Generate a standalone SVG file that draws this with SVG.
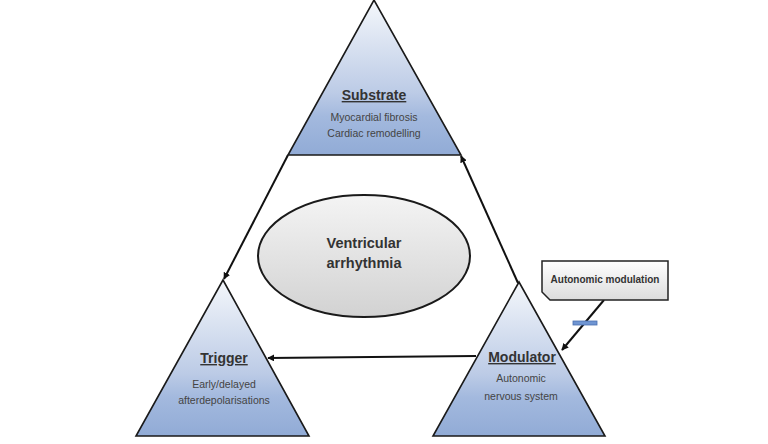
<svg xmlns="http://www.w3.org/2000/svg" width="768" height="444" viewBox="0 0 768 444">
<defs>
<linearGradient id="tri" x1="0" y1="0" x2="0" y2="1">
<stop offset="0" stop-color="#f4f7fb"/>
<stop offset="0.6" stop-color="#bccbe6"/>
<stop offset="0.75" stop-color="#a3b9de"/>
<stop offset="1" stop-color="#91abd6"/>
</linearGradient>
<linearGradient id="ell" x1="0" y1="0" x2="0" y2="1">
<stop offset="0" stop-color="#f4f4f4"/>
<stop offset="1" stop-color="#d2d2d2"/>
</linearGradient>
<linearGradient id="box" x1="0" y1="0" x2="0" y2="1">
<stop offset="0" stop-color="#ffffff"/>
<stop offset="1" stop-color="#dcdcdc"/>
</linearGradient>
<marker id="ah" viewBox="0 0 10 10" refX="9" refY="5" markerWidth="7" markerHeight="7" orient="auto" markerUnits="userSpaceOnUse">
<path d="M0,0 L10,5 L0,10 z" fill="#111"/>
</marker>
</defs>
<style>
.tri{fill:url(#tri);stroke:#1a1a1a;stroke-width:1.6}
.title{font-family:"Liberation Sans",Arial,sans-serif;font-weight:bold;font-size:14px;fill:#333;text-anchor:middle;text-decoration:underline}
.body{font-family:"Liberation Sans",Arial,sans-serif;font-size:10.5px;fill:#444;text-anchor:middle}
.conn{stroke:#111;stroke-width:2;fill:none}
</style>
<rect width="768" height="444" fill="#ffffff"/>
<g id="connectors">
<line class="conn" x1="288" y1="155" x2="224" y2="279" marker-end="url(#ah)"/>
<line class="conn" x1="518" y1="283" x2="461" y2="156" marker-end="url(#ah)"/>
<line class="conn" x1="476" y1="356" x2="268" y2="358" marker-end="url(#ah)"/>
<line class="conn" x1="604" y1="300" x2="562" y2="350" marker-end="url(#ah)"/>
<rect x="573" y="321" width="24" height="4" fill="#6f95d2" stroke="#4a6fae" stroke-width="0.8"/>
</g>
<g id="substrate">
<polygon class="tri" points="374,0 461,155 288,155"/>
<text class="title" x="374" y="100">Substrate</text>
<text class="body" x="374" y="121">Myocardial fibrosis</text>
<text class="body" x="374" y="137">Cardiac remodelling</text>
</g>
<g id="trigger">
<polygon class="tri" points="223,280 309,436 136,436"/>
<text class="title" x="224" y="363">Trigger</text>
<text class="body" x="224" y="388">Early/delayed</text>
<text class="body" x="224" y="404">afterdepolarisations</text>
</g>
<g id="modulator">
<polygon class="tri" points="519,282 605,436 433,436"/>
<text class="title" x="522" y="362">Modulator</text>
<text class="body" x="521" y="382">Autonomic</text>
<text class="body" x="521" y="400">nervous system</text>
</g>
<g id="arrhythmia">
<ellipse cx="364" cy="256" rx="106" ry="61" fill="url(#ell)" stroke="#1a1a1a" stroke-width="2"/>
<text x="364" y="248" font-family="Liberation Sans, Arial, sans-serif" font-weight="bold" font-size="14.5" fill="#333" text-anchor="middle">Ventricular</text>
<text x="364" y="268" font-family="Liberation Sans, Arial, sans-serif" font-weight="bold" font-size="14.5" fill="#333" text-anchor="middle">arrhythmia</text>
</g>
<g id="autonomic-modulation">
<path d="M542,261 L668,261 L668,300 L550,300 L542,292 Z" fill="url(#box)" stroke="#222" stroke-width="1.5"/>
<text x="605" y="283" font-family="Liberation Sans, Arial, sans-serif" font-weight="bold" font-size="10" fill="#333" text-anchor="middle">Autonomic modulation</text>
</g>
</svg>
